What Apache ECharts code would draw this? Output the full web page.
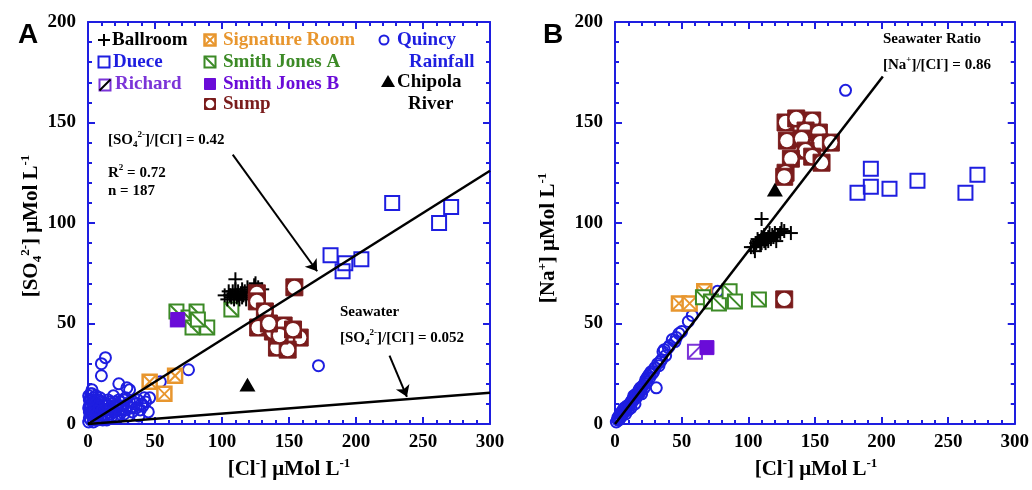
<!DOCTYPE html>
<html>
<head>
<meta charset="utf-8">
<script src="https://cdn.jsdelivr.net/npm/echarts@6.0.0/dist/echarts.min.js"></script>
<style>
  html, body { margin: 0; padding: 0; background: #fff; }
  #chart { width: 1032px; height: 490px; }
</style>
</head>
<body>
<div id="chart"></div>
<script>
// ---- axis ranges ----
const clMax = 300;
const concMax = 200;
const majorStep = 50;

// ---- ratio lines ----
const ratioFit = 0.42;      // SO4/Cl regression
const fitR2 = 0.72;
const fitN = 187;
const ratioSeaSO4 = 0.052;  // seawater SO4/Cl
const ratioSeaNa = 0.86;    // seawater Na/Cl
const naLineEndCl = 201;

// ---- panel A: [Cl-], [SO4 2-] (µmol/L) ----
const ballroomSO4 = [[102,64],[104,62],[105,66],[106,64],[107,63],[108,66],[109,62],[110,65],[110,67],[111,63],[112,64],[112,66],[113,62],[114,65],[115,63],[115,67],[116,64],[117,66],[118,62],[119,68],[120,65],[121,63],[122,66],[124,69],[125,70],[127,68],[130,67],[110,72]];
const dueceSO4 = [[181,84],[190,76],[192,80],[204,82],[227,110],[262,100],[271,108]];
const richardSO4 = [[67,52]];
const signatureSO4 = [[46,21],[65,24],[57,15]];
const smithASO4 = [[66,56],[75,53],[81,56],[78,48],[89,48],[82,52],[107,57]];
const smithBSO4 = [[67,52]];
const sumpSO4 = [[126,65],[126,61],[132,56],[154,68],[127,48],[138,46],[146,49],[158,43],[148,42],[141,38],[149,37],[143,44],[153,47],[135,50]];
const quincySO4 = [[0.5,1],[1,3],[1,6],[2,2],[2,9],[2,12],[3,5],[3,15],[3,17],[4,1],[4,8],[5,3],[5,11],[6,6],[6,14],[7,2],[7,9],[8,5],[8,12],[9,3],[9,8],[10,6],[10,11],[11,2],[12,9],[13,5],[14,7],[15,12],[15,3],[16,8],[17,5],[18,10],[19,14],[20,6],[21,9],[22,3],[23,20],[24,11],[25,7],[27,5],[28,13],[29,18],[30,9],[31,17],[33,6],[34,11],[36,8],[38,4],[40,10],[42,13],[43,11],[45,6],[46,13],[54,21],[75,27],[10,24],[10,30],[13,33],[172,29],
  [1,9],[2,5],[3,11],[4,13],[5,7],[6,2],[7,12],[8,9],[9,13],[11,7],[12,4],[13,10],[14,2],[16,11],[17,8],[18,4],[19,7],[20,11],[21,4],[22,8],[23,12],[24,5],[26,9],[27,12],[28,7],[30,4],[31,11],[32,8],[35,10],[37,12],[39,7],[41,9],[0.5,8],[1,12],[2,15],[0.5,14]];
const chipolaSO4 = [[119,19]];

// ---- panel B: [Cl-], [Na+] (µmol/L) ----
const ballroomNa = [[102,88],[104,88],[105,86],[106,90],[107,92],[108,91],[109,89],[110,93],[110,90],[111,92],[112,91],[112,94],[113,90],[114,92],[115,93],[115,91],[116,95],[117,92],[118,94],[119,93],[120,95],[121,91],[122,94],[124,95],[125,97],[127,96],[132,95],[110,102]];
const dueceNa = [[182,115],[192,118],[192,127],[206,117],[227,121],[263,115],[272,124]];
const richardNa = [[60,36]];
const signatureNa = [[48,60],[56,60],[67,66]];
const smithANa = [[66,63],[72,61],[78,60],[86,66],[90,61],[108,62]];
const smithBNa = [[69,38]];
const sumpNa = [[128,150],[136,152],[148,151],[143,146],[153,145],[129,141],[140,142],[154,140],[162,140],[143,136],[132,132],[148,133],[155,130],[128,125],[127,123],[127,62]];
const quincyNa = [[1,1],[2,2],[2,3],[3,2],[3,4],[4,3],[4,5],[5,4],[5,6],[6,5],[7,6],[7,8],[8,7],[8,5],[9,8],[10,9],[10,7],[11,10],[12,11],[12,8],[13,12],[14,12],[15,14],[15,10],[16,13],[17,15],[18,17],[19,16],[20,18],[20,15],[21,19],[22,20],[23,22],[24,21],[25,24],[26,23],[27,26],[28,25],[30,28],[32,30],[34,31],[31,18],[36,36],[37,37],[40,38],[43,42],[45,41],[48,45],[55,51],[58,54],[77,66],[173,166],
  [3,3],[5,5],[6,7],[9,9],[11,9],[13,11],[14,14],[16,15],[18,15],[19,18],[22,18],[24,23],[26,25],[29,26],[33,29],[35,32],[38,34],[41,39],[46,43],[50,46]];
const chipolaNa = [[120,116]];

// ---- annotation arrows, panel A (data units) ----
const arrowsA = [
  [[108,134],[171,76]],
  [[225,34],[238,13.5]]
];

// ---- styling ----
const SERIF = "'Liberation Serif', 'Times New Roman', serif";
const SANS = "'Liberation Sans', Arial, sans-serif";
const AXIS_BLUE = '#1e1ee0';
const C = {
  ballroom: '#000000',
  duece: '#1e1ee0',
  richard: '#7b34d8',
  signature: '#e8962e',
  smithA: '#3c8a26',
  smithB: '#6a0cd8',
  sump: '#7a1c1c',
  quincy: '#1e1ee0',
  chipola: '#000000'
};

// draws one marker glyph centred at (x, y)
function glyph(kind, x, y, s, col, extra) {
  const rect = (fill, stroke, lw) => ({ type: 'rect', shape: { x: x - s, y: y - s, width: 2 * s, height: 2 * s }, style: { fill, stroke, lineWidth: lw } });
  const line = (x1, y1, x2, y2, stroke, lw) => ({ type: 'line', shape: { x1, y1, x2, y2 }, style: { stroke, lineWidth: lw } });
  switch (kind) {
    case 'cross':
      return { type: 'group', children: [line(x - s, y, x + s, y, col, 2), line(x, y - s, x, y + s, col, 2)] };
    case 'square':
      return rect('none', col, 2);
    case 'squareUp':
      return { type: 'group', children: [rect('#fff', col, 2), line(x - s, y + s, x + s, y - s, (extra || col), 2)] };
    case 'squareDown':
      return { type: 'group', children: [rect('#fff', col, 2), line(x - s, y - s, x + s, y + s, col, 2)] };
    case 'squareX':
      return { type: 'group', children: [rect('#fff', col, 2.5), line(x - s, y - s, x + s, y + s, col, 2), line(x - s, y + s, x + s, y - s, col, 2)] };
    case 'filled':
      return rect(col, col, 1);
    case 'sump':
      return { type: 'group', children: [rect(col, col, 1), { type: 'circle', shape: { cx: x, cy: y, r: s * 0.78 }, style: { fill: '#fff' } }] };
    case 'circle':
      return { type: 'circle', shape: { cx: x, cy: y, r: s }, style: { fill: 'none', stroke: col, lineWidth: 2 } };
    case 'triangle':
      return { type: 'polygon', shape: { points: [[x, y - s], [x + s, y + s * 0.7], [x - s, y + s * 0.7]] }, style: { fill: col } };
  }
}

function markers(name, data, panel, kind, col, s, z) {
  return {
    type: 'custom', name, data, z,
    xAxisIndex: panel * 2, yAxisIndex: panel * 2,
    silent: true,
    renderItem: (params, api) => {
      const p = api.coord([api.value(0), api.value(1)]);
      return glyph(kind, p[0], p[1], s, col);
    }
  };
}

function ratioLine(panel, ratio, xEnd) {
  return {
    type: 'line', xAxisIndex: panel * 2, yAxisIndex: panel * 2, z: 20,
    data: [[0, 0], [xEnd, xEnd * ratio]],
    symbol: 'none', silent: true,
    lineStyle: { color: '#000', width: 2.5 }
  };
}

// ---- axes ----
function valueAxis(gridIndex, max, position, labelled) {
  return {
    type: 'value', gridIndex, position, min: 0, max, interval: majorStep,
    axisLine: { show: true, onZero: false, lineStyle: { color: AXIS_BLUE, width: 2 } },
    axisTick: { show: true, inside: true, length: 7, lineStyle: { color: AXIS_BLUE, width: 2 } },
    minorTick: { show: true, splitNumber: 5, length: 4, lineStyle: { color: AXIS_BLUE, width: 2 } },
    splitLine: { show: false },
    minorSplitLine: { show: false },
    axisLabel: {
      show: labelled, color: '#000', fontFamily: SERIF, fontWeight: 'bold', fontSize: 19,
      margin: (position === 'left') ? 12 : 9
    }
  };
}

// ---- rich text helpers ----
function richStyle(S) {
  const t = Math.round(S * 0.62);
  return {
    sup: { fontSize: t, fontWeight: 'bold', fontFamily: SERIF, lineHeight: t, verticalAlign: 'top' },
    sub: { fontSize: t, fontWeight: 'bold', fontFamily: SERIF, lineHeight: t, verticalAlign: 'bottom' }
  };
}
function label(x, y, text, S, opts) {
  opts = opts || {};
  return {
    type: 'text', x, y, rotation: opts.rotation || 0, silent: true, z: 30,
    style: {
      text, fill: opts.color || '#000',
      fontSize: S, fontFamily: opts.family || SERIF, fontWeight: opts.weight || 'bold',
      lineHeight: S + 4,
      rich: richStyle(S),
      textAlign: opts.align || 'left', align: opts.align || 'left',
      textVerticalAlign: 'middle', verticalAlign: 'middle'
    }
  };
}

const SO4 = '[SO{sub|4}{sup|2-}]';
const CL = '[Cl{sup|-}]';
const UNIT = ' μMol L{sup|-1}';

const legendItems = [
  // column 1
  glyph('cross', 104, 40, 6, C.ballroom),
  label(112, 40, 'Ballroom', 19, { color: C.ballroom }),
  glyph('square', 104, 62, 5.5, C.duece),
  label(113, 62, 'Duece', 19, { color: C.duece }),
  glyph('squareUp', 105, 85, 5.5, C.richard, '#000'),
  label(115, 84, 'Richard', 19, { color: C.richard }),
  // column 2
  glyph('squareX', 210, 40, 5.5, C.signature),
  label(223, 40, 'Signature Room', 19, { color: C.signature }),
  glyph('squareDown', 210, 62, 5.5, C.smithA),
  label(223, 62, 'Smith Jones A', 19, { color: C.smithA }),
  glyph('filled', 210, 84, 5.5, C.smithB),
  label(223, 84, 'Smith Jones B', 19, { color: C.smithB }),
  glyph('sump', 210, 104, 5.5, C.sump),
  label(223, 104, 'Sump', 19, { color: C.sump }),
  // column 3
  glyph('circle', 384, 40, 4.5, C.quincy),
  label(397, 40, 'Quincy', 19, { color: C.quincy }),
  label(409, 62, 'Rainfall', 19, { color: C.quincy }),
  glyph('triangle', 388, 82, 7, C.chipola),
  label(397, 82, 'Chipola', 19, { color: C.chipola }),
  label(408, 104, 'River', 19, { color: C.chipola })
];

const textItems = [
  label(28, 35, 'A', 28, { family: SANS, align: 'center' }),
  label(553, 35, 'B', 28, { family: SANS, align: 'center' }),
  // axis titles
  label(289, 470, CL + UNIT, 21, { align: 'center' }),
  label(816, 470, CL + UNIT, 21, { align: 'center' }),
  label(32, 226, SO4 + UNIT, 21, { align: 'center', rotation: Math.PI / 2 }),
  label(549, 238, '[Na{sup|+}]' + UNIT, 21, { align: 'center', rotation: Math.PI / 2 }),
  // panel A annotations
  label(108, 140, SO4 + '/' + CL + ' = ' + ratioFit, 15),
  label(108, 173, 'R{sup|2} = ' + fitR2, 15),
  label(108, 191, 'n = ' + fitN, 15),
  label(340, 312, 'Seawater', 15),
  label(340, 338, SO4 + '/' + CL + ' = ' + ratioSeaSO4, 15),
  // panel B annotations
  label(883, 39, 'Seawater Ratio', 15),
  label(883, 65, '[Na{sup|+}]/' + CL + ' = ' + ratioSeaNa, 15)
];

const option = {
  animation: false,
  backgroundColor: '#fff',
  grid: [
    { left: 88, top: 22, width: 402, height: 402 },
    { left: 615, top: 22, width: 402, height: 402 }
  ],
  xAxis: [
    valueAxis(0, clMax, 'bottom', true), valueAxis(0, clMax, 'top', false),
    valueAxis(1, clMax, 'bottom', true), valueAxis(1, clMax, 'top', false)
  ],
  yAxis: [
    valueAxis(0, concMax, 'left', true), valueAxis(0, concMax, 'right', false),
    valueAxis(1, concMax, 'left', true), valueAxis(1, concMax, 'right', false)
  ],
  series: [
    // panel A
    markers('Quincy Rainfall', quincySO4, 0, 'circle', C.quincy, 5.5, 2),
    markers('Signature Room', signatureSO4, 0, 'squareX', C.signature, 7, 3),
    markers('Richard', richardSO4, 0, 'squareUp', C.richard, 7, 3),
    markers('Smith Jones A', smithASO4, 0, 'squareDown', C.smithA, 7, 4),
    markers('Smith Jones B', smithBSO4, 0, 'filled', C.smithB, 7, 5),
    markers('Ballroom', ballroomSO4, 0, 'cross', C.ballroom, 7, 6),
    markers('Sump', sumpSO4, 0, 'sump', C.sump, 8.5, 7),
    markers('Duece', dueceSO4, 0, 'square', C.duece, 7, 8),
    markers('Chipola River', chipolaSO4, 0, 'triangle', C.chipola, 8, 9),
    ratioLine(0, ratioFit, clMax),
    ratioLine(0, ratioSeaSO4, clMax),
    {
      type: 'lines', coordinateSystem: 'cartesian2d', xAxisIndex: 0, yAxisIndex: 0, z: 21,
      symbol: ['none', 'arrow'], symbolSize: 11, silent: true,
      lineStyle: { color: '#000', width: 2, opacity: 1, curveness: 0 },
      data: arrowsA.map(c => ({ coords: c }))
    },
    // panel B
    markers('Quincy Rainfall', quincyNa, 1, 'circle', C.quincy, 5.5, 2),
    markers('Signature Room', signatureNa, 1, 'squareX', C.signature, 7, 3),
    markers('Richard', richardNa, 1, 'squareUp', C.richard, 7, 3),
    markers('Smith Jones A', smithANa, 1, 'squareDown', C.smithA, 7, 4),
    markers('Smith Jones B', smithBNa, 1, 'filled', C.smithB, 7, 5),
    markers('Ballroom', ballroomNa, 1, 'cross', C.ballroom, 7, 6),
    markers('Sump', sumpNa, 1, 'sump', C.sump, 8.5, 7),
    markers('Duece', dueceNa, 1, 'square', C.duece, 7, 8),
    markers('Chipola River', chipolaNa, 1, 'triangle', C.chipola, 8, 9),
    ratioLine(1, ratioSeaNa, naLineEndCl)
  ],
  graphic: { elements: legendItems.concat(textItems) }
};

const chart = echarts.init(document.getElementById('chart'), null, { renderer: 'canvas' });
chart.setOption(option);
</script>
</body>
</html>
